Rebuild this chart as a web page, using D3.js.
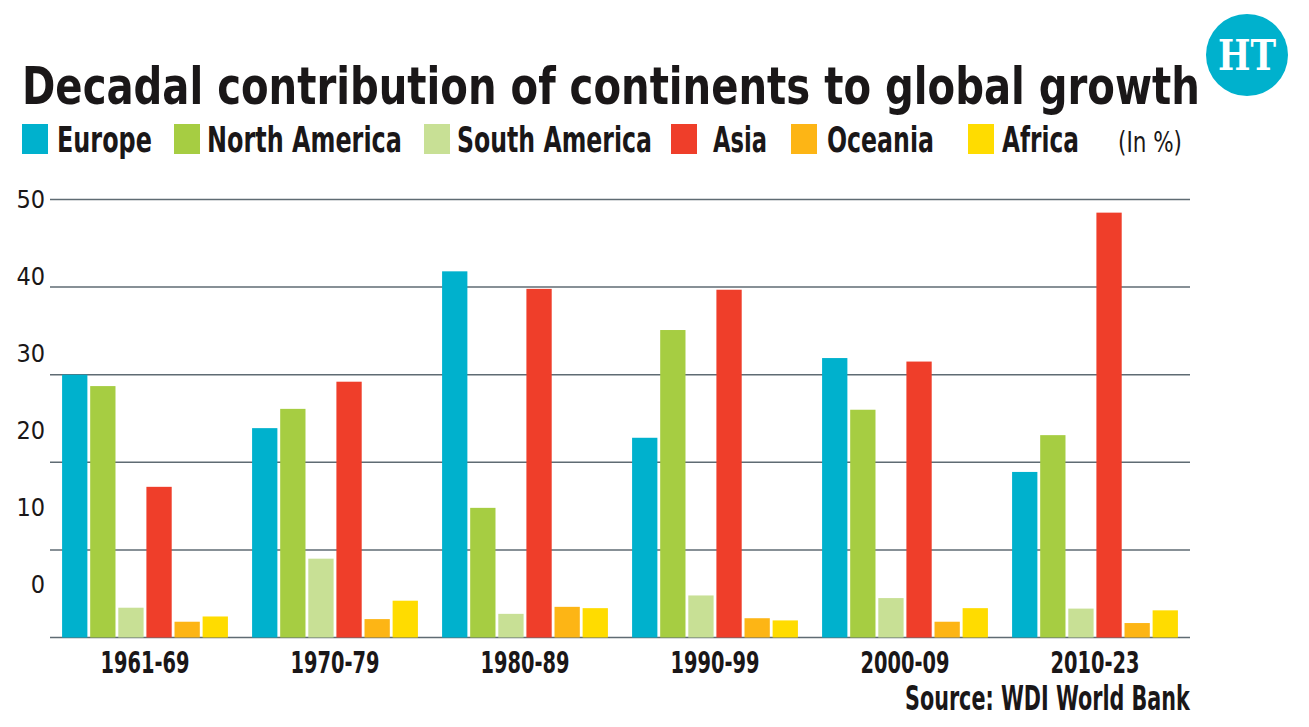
<!DOCTYPE html>
<html>
<head>
<meta charset="utf-8">
<script src="https://cdn.jsdelivr.net/npm/d3@7"></script>
<style>
  body { margin: 0; background: #fff; }
  svg { display: block; }
  .cond { font-family: "Liberation Sans Narrow", "DejaVu Sans Condensed", "Roboto", sans-serif; }
</style>
</head>
<body>
<script>
// decades on the x axis
const decades = ["1961-69", "1970-79", "1980-89", "1990-99", "2000-09", "2010-23"];
const continents = ["Europe", "North America", "South America", "Asia", "Oceania", "Africa"];
const continentColors = ["#00b1cd", "#a6cd42", "#c8e095", "#ef3e2a", "#fdb515", "#ffdc00"];

// contribution in %, one value per decade
const europe = [30.0, 23.9, 41.8, 22.8, 31.9, 18.9];
const northAmerica = [28.7, 26.1, 14.8, 35.1, 26.0, 23.1];
const southAmerica = [3.4, 9.0, 2.7, 4.8, 4.5, 3.3];
const asia = [17.2, 29.2, 39.8, 39.7, 31.5, 48.5];
const oceania = [1.8, 2.1, 3.5, 2.2, 1.8, 1.65];
const africa = [2.4, 4.2, 3.35, 1.95, 3.35, 3.1];
const yTicks = [0, 10, 20, 30, 40, 50];

const seriesValues = [europe, northAmerica, southAmerica, asia, oceania, africa];
const table = decades.map((dec, i) => ({
  decade: dec,
  values: continents.map((c, j) => ({ key: c, value: seriesValues[j][i], color: continentColors[j] }))
}));

const width = 1309;
const height = 727;

const svg = d3.select("body").append("svg")
  .attr("width", width)
  .attr("height", height);

// squeeze a text horizontally so it fills a given width (narrow print font look)
function fitText(sel, x, y, w, anchor) {
  sel.attr("x", 0).attr("y", 0);
  const natural = sel.node().getComputedTextLength();
  const k = w / natural;
  const left = anchor === "middle" ? x - w / 2 : x;
  sel.attr("text-anchor", "start")
    .attr("transform", `translate(${left},${y}) scale(${k},1)`);
}

// title
const title = svg.append("text")
  .attr("class", "cond")
  .attr("font-size", 52)
  .attr("font-weight", "bold")
  .attr("fill", "#1a1718")
  .text("Decadal contribution of continents to global growth");
fitText(title, 22, 104, 1178);

// HT logo
const logo = svg.append("g").attr("transform", "translate(1247,55)");
logo.append("circle").attr("r", 41).attr("fill", "#00b1cd");
const ht = logo.append("text")
  .attr("font-family", "DejaVu Serif, serif")
  .attr("font-weight", "bold")
  .attr("font-size", 42)
  .attr("fill", "#fff")
  .text("HT");
fitText(ht, 0, 15, 58, "middle");

// legend
const legendLayout = [
  { sx: 22, tx: 57, tw: 95 },
  { sx: 174, tx: 207, tw: 195 },
  { sx: 424, tx: 457, tw: 195 },
  { sx: 671, tx: 713, tw: 54 },
  { sx: 791, tx: 827, tw: 107 },
  { sx: 968, tx: 1002, tw: 77 }
];
const legend = svg.append("g");
continents.forEach((c, i) => {
  const l = legendLayout[i];
  legend.append("rect")
    .attr("x", l.sx).attr("y", 124)
    .attr("width", 26).attr("height", 30)
    .attr("fill", continentColors[i]);
  const t = legend.append("text")
    .attr("class", "cond")
    .attr("font-size", 36)
    .attr("font-weight", "bold")
    .attr("fill", "#1a1718")
    .text(c);
  fitText(t, l.tx, 152, l.tw);
});
const unit = legend.append("text")
  .attr("class", "cond")
  .attr("font-size", 29)
  .attr("fill", "#1a1718")
  .text("(In %)");
fitText(unit, 1118, 152, 64);

// scales
const x0 = d3.scaleBand().domain(decades).range([50, 1190]);
const x1 = d3.scaleBand().domain(continents).range([0, x0.bandwidth()])
  .paddingInner(0.1).paddingOuter(0.43);
const y = d3.scaleLinear().domain([0, 50]).range([637.5, 199.5]);
// tick labels sit on their own ladder in the original graphic
const yLabel = d3.scaleLinear().domain([0, 50]).range([584, 199]);

// gridlines
svg.append("g")
  .selectAll("line")
  .data(yTicks)
  .join("line")
  .attr("x1", 50).attr("x2", 1190)
  .attr("y1", d => y(d)).attr("y2", d => y(d))
  .attr("stroke", "#5f6b73")
  .attr("stroke-width", 1.5);

// y labels
const yAxis = svg.append("g")
  .attr("transform", "translate(45,0)")
  .call(d3.axisLeft(yLabel).tickValues(yTicks).tickSize(0).tickPadding(0));
yAxis.select(".domain").remove();
yAxis.selectAll("text")
  .attr("class", "cond")
  .attr("font-size", 25)
  .attr("fill", "#1a1718")
  .attr("dy", "0.35em");

// bars
svg.append("g")
  .selectAll("g")
  .data(table)
  .join("g")
  .attr("transform", d => `translate(${x0(d.decade)},0)`)
  .selectAll("rect")
  .data(d => d.values)
  .join("rect")
  .attr("x", d => x1(d.key))
  .attr("width", x1.bandwidth())
  .attr("y", d => y(d.value))
  .attr("height", d => y(0) - y(d.value))
  .attr("fill", d => d.color);

// x labels
const xLabels = svg.append("g")
  .selectAll("text")
  .data(decades)
  .join("text")
  .attr("class", "cond")
  .attr("font-size", 31)
  .attr("font-weight", "bold")
  .attr("fill", "#1a1718")
  .text(d => d);
xLabels.each(function (d) {
  fitText(d3.select(this), x0(d) + x0.bandwidth() / 2, y(0) + 35, 89, "middle");
});

// source
const source = svg.append("text")
  .attr("class", "cond")
  .attr("font-size", 33)
  .attr("font-weight", "bold")
  .attr("fill", "#1a1718")
  .text("Source: WDI World Bank");
fitText(source, 905, 710, 285);
</script>
</body>
</html>
